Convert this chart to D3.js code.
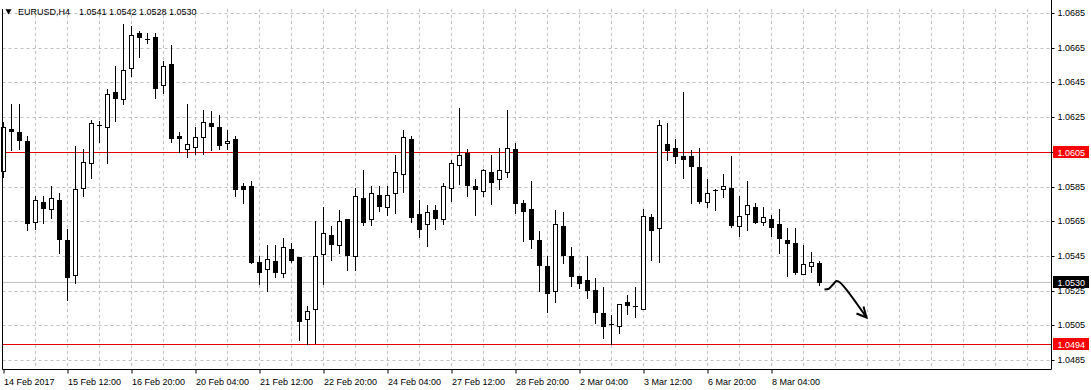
<!DOCTYPE html>
<html>
<head>
<meta charset="utf-8">
<script src="https://cdn.jsdelivr.net/npm/d3@7"></script>
<style>
  html, body { margin: 0; padding: 0; background: #fff; }
  svg { display: block; font-family: "Liberation Sans", Arial, sans-serif; font-size: 9px; }
</style>
</head>
<body>
<svg id="chart" width="1091" height="390"></svg>
<script>
// EURUSD H4 candles, 14 Feb 2017 04:00 -> 9 Mar 2017 04:00
const SYMBOL = "EURUSD,H4";

const OPEN = [
  1.05941, 1.06180, 1.06162, 1.06112, 1.05647, 1.05759, 1.05719, 1.05770, 1.05540, 1.05338,
  1.05840, 1.05984, 1.06202, 1.06191, 1.06395, 1.06353, 1.06531, 1.06735, 1.06702, 1.06710,
  1.06433, 1.06554, 1.06141, 1.06068, 1.06079, 1.06137, 1.06216, 1.06193, 1.06099, 1.06124,
  1.05851, 1.05851, 1.05415, 1.05373, 1.05419, 1.05350, 1.05488, 1.05442, 1.05088, 1.05142,
  1.05459, 1.05569, 1.05511, 1.05663, 1.05448, 1.05784, 1.05661, 1.05799, 1.05730, 1.05811,
  1.05920, 1.06122, 1.05690, 1.05632, 1.05713, 1.05661, 1.05840, 1.05972, 1.06041, 1.05851,
  1.05822, 1.05932, 1.05892, 1.05932, 1.06064, 1.05753, 1.05720, 1.05540, 1.05392, 1.05249,
  1.05622, 1.05449, 1.05332, 1.05309, 1.05252, 1.05119, 1.05059, 1.05048, 1.05183, 1.05160,
  1.05146, 1.05673, 1.05609, 1.06095, 1.06070, 1.06024, 1.06024, 1.05961, 1.05759, 1.05828,
  1.05834, 1.05841, 1.05621, 1.05690, 1.05730, 1.05644, 1.05661, 1.05632, 1.05540, 1.05523,
  1.05347, 1.05390, 1.0541
];
const HIGH = [
  1.06224, 1.06326, 1.06326, 1.06141, 1.05795, 1.05795, 1.05851, 1.05813, 1.05603, 1.06083,
  1.06066, 1.06233, 1.06229, 1.06410, 1.06546, 1.06787, 1.06777, 1.06746, 1.06733, 1.06735,
  1.06573, 1.06667, 1.06162, 1.06326, 1.06191, 1.06291, 1.06285, 1.06262, 1.06174, 1.06141,
  1.05870, 1.05882, 1.05448, 1.05513, 1.05513, 1.05553, 1.05524, 1.05442, 1.05161, 1.05651,
  1.05734, 1.05622, 1.05715, 1.05663, 1.05841, 1.05945, 1.05851, 1.05851, 1.05851, 1.06032,
  1.06174, 1.06139, 1.05770, 1.05742, 1.05742, 1.05868, 1.06004, 1.06302, 1.06064, 1.05893,
  1.05949, 1.06032, 1.06070, 1.06289, 1.06102, 1.05772, 1.05882, 1.05594, 1.05451, 1.05713,
  1.05701, 1.05500, 1.05332, 1.05448, 1.05321, 1.05269, 1.05108, 1.05171, 1.05223, 1.05269,
  1.05720, 1.05690, 1.06232, 1.06216, 1.06122, 1.06395, 1.06059, 1.06072, 1.05893, 1.05837,
  1.05922, 1.06026, 1.05795, 1.05882, 1.05755, 1.05732, 1.05687, 1.05720, 1.05609, 1.05609,
  1.05513, 1.05472, 1.0542
];
const LOW = [
  1.05903, 1.06060, 1.06066, 1.05599, 1.05607, 1.05641, 1.05670, 1.05468, 1.05196, 1.05296,
  1.05797, 1.05901, 1.06108, 1.05987, 1.06229, 1.06324, 1.06487, 1.06598, 1.06679, 1.06362,
  1.06389, 1.06106, 1.06051, 1.06022, 1.06039, 1.06039, 1.06060, 1.06066, 1.06066, 1.05797,
  1.05757, 1.05411, 1.05288, 1.05249, 1.05330, 1.05330, 1.05415, 1.04967, 1.04940, 1.04950,
  1.05290, 1.05428, 1.05468, 1.05370, 1.05370, 1.05630, 1.05630, 1.05711, 1.05687, 1.05699,
  1.05820, 1.05647, 1.05561, 1.05509, 1.05607, 1.05632, 1.05768, 1.05866, 1.05795, 1.05687,
  1.05795, 1.05751, 1.05834, 1.05907, 1.05699, 1.05538, 1.05497, 1.05249, 1.05128, 1.05186,
  1.05411, 1.05278, 1.05267, 1.05209, 1.05065, 1.04979, 1.04940, 1.05007, 1.05117, 1.05100,
  1.05146, 1.05428, 1.05417, 1.06001, 1.05987, 1.05901, 1.05757, 1.05757, 1.05732, 1.05716,
  1.05791, 1.05618, 1.05566, 1.05601, 1.05641, 1.05628, 1.05565, 1.05467, 1.05336, 1.05347,
  1.05347, 1.05359, 1.0528
];
const CLOSE = [
  1.06191, 1.06172, 1.06120, 1.05641, 1.05770, 1.05728, 1.05782, 1.05549, 1.05330, 1.05834,
  1.05990, 1.06214, 1.06202, 1.06381, 1.06360, 1.06520, 1.06721, 1.06710, 1.06702, 1.06419,
  1.06543, 1.06131, 1.06131, 1.06093, 1.06134, 1.06220, 1.06200, 1.06089, 1.06112, 1.05837,
  1.05837, 1.05415, 1.05359, 1.05430, 1.05359, 1.05500, 1.05428, 1.05077, 1.05131, 1.05448,
  1.05580, 1.05520, 1.05649, 1.05457, 1.05794, 1.05647, 1.05811, 1.05739, 1.05799, 1.05932,
  1.06134, 1.05676, 1.05607, 1.05701, 1.05670, 1.05851, 1.05984, 1.06030, 1.05860, 1.05834,
  1.05943, 1.05878, 1.05943, 1.06070, 1.05757, 1.05711, 1.05549, 1.05399, 1.05238, 1.05632,
  1.05457, 1.05336, 1.05296, 1.05255, 1.05128, 1.05048, 1.05059, 1.05171, 1.05169, 1.05160,
  1.05678, 1.05601, 1.06203, 1.06062, 1.06028, 1.06010, 1.05970, 1.05768, 1.05811, 1.05828,
  1.05851, 1.05630, 1.05680, 1.05742, 1.05645, 1.05673, 1.05618, 1.05551, 1.05526, 1.05359,
  1.05402, 1.05417, 1.0530
];

// one label every 8 bars
const TIME_LABELS = [
  "14 Feb 2017", "15 Feb 12:00", "16 Feb 20:00", "20 Feb 04:00", "21 Feb 12:00",
  "22 Feb 20:00", "24 Feb 04:00", "27 Feb 12:00", "28 Feb 20:00", "2 Mar 04:00",
  "3 Mar 12:00", "6 Mar 20:00", "8 Mar 04:00"
];
const PRICE_TICKS = [1.0685, 1.0665, 1.0645, 1.0625, 1.0605, 1.0585, 1.0565, 1.0545, 1.0525, 1.0505, 1.0485];
const HLINES = [1.0605, 1.0494];   // drawn horizontal levels
const BID = 1.0530;

// hand drawn arrow: [bar index, price]
const ARROW_PATH = [[102.625, 1.05256], [103.19, 1.05262], [103.69, 1.05285], [104.125, 1.05305], [104.56, 1.05297], [107.875, 1.05095]];
const ARROW_HEAD = [[106.625, 1.05118], [107.875, 1.05095], [107.5, 1.05158]];

const W = 1091, H = 390;
const frame = { left: 2.5, right: 1051.5, top: 9, bottom: 369.5 };

const svg = d3.select("#chart");

const x = d3.scaleLinear().domain([0, 1]).range([3.5, 11.5]);
const y = d3.scaleLinear().domain([1.0485, 1.0685]).range([360, 13]);
const ry = v => Math.round(y(v)) + 0.5;

const GRID = "#c0c0c0";

// --- grid
const gGrid = svg.append("g");
gGrid.selectAll("line.h").data(PRICE_TICKS).join("line")
  .attr("x1", frame.left).attr("x2", frame.right)
  .attr("y1", ry).attr("y2", ry)
  .attr("stroke", GRID).attr("stroke-dasharray", "3,3");

const nBarsView = Math.floor((frame.right - 3.5) / 8);
const vgrid = d3.range(4, nBarsView + 1, 4);
gGrid.selectAll("line.v").data(vgrid).join("line")
  .attr("x1", d => x(d)).attr("x2", d => x(d))
  .attr("y1", frame.top).attr("y2", frame.bottom)
  .attr("stroke", GRID).attr("stroke-dasharray", "3,3");

// --- level lines
svg.append("line")
  .attr("x1", frame.left).attr("x2", frame.right)
  .attr("y1", ry(BID)).attr("y2", ry(BID))
  .attr("stroke", "#c0c0c0");
svg.selectAll("line.lvl").data(HLINES).join("line")
  .attr("x1", frame.left).attr("x2", frame.right)
  .attr("y1", ry).attr("y2", ry)
  .attr("stroke", "#e00000");

// --- candles
const bars = OPEN.map((o, i) => ({ i, o, h: HIGH[i], l: LOW[i], c: CLOSE[i] }));
const gC = svg.append("g");

gC.selectAll("line.wick").data(bars).join("line")
  .attr("x1", d => x(d.i)).attr("x2", d => x(d.i))
  .attr("y1", d => Math.round(y(d.h))).attr("y2", d => Math.round(y(d.l)) + 1)
  .attr("stroke", "#000");

bars.forEach(d => {
  const top = Math.round(y(Math.max(d.o, d.c)));
  const bot = Math.round(y(Math.min(d.o, d.c)));
  const cx = x(d.i);
  if (bot - top < 1) {
    gC.append("line")
      .attr("x1", cx - 2.5).attr("x2", cx + 2.5)
      .attr("y1", top + 0.5).attr("y2", top + 0.5)
      .attr("stroke", "#000");
  } else if (d.c > d.o) {
    gC.append("rect")
      .attr("x", cx - 2).attr("width", 4)
      .attr("y", top + 0.5).attr("height", bot - top)
      .attr("fill", "#fff").attr("stroke", "#000");
  } else {
    gC.append("rect")
      .attr("x", cx - 2.5).attr("width", 5)
      .attr("y", top).attr("height", bot - top + 1)
      .attr("fill", "#000");
  }
});

// --- arrow
const arrowLine = d3.line().x(d => x(d[0])).y(d => y(d[1])).curve(d3.curveCatmullRom.alpha(0.5));
svg.append("path").datum(ARROW_PATH)
  .attr("d", arrowLine).attr("fill", "none")
  .attr("stroke", "#000").attr("stroke-width", 2);
svg.append("path").datum(ARROW_HEAD)
  .attr("d", d3.line().x(d => x(d[0])).y(d => y(d[1])))
  .attr("fill", "none").attr("stroke", "#000").attr("stroke-width", 2);

// --- frame
svg.append("path")
  .attr("d", `M${frame.left},${frame.top}V${frame.bottom}H${frame.right}V0`)
  .attr("fill", "none").attr("stroke", "#000");

// --- price axis
const yAxis = svg.append("g")
  .attr("transform", `translate(${frame.right},0)`)
  .call(d3.axisRight(y).tickValues(PRICE_TICKS).tickSize(3).tickPadding(3)
          .tickFormat(d3.format(".4f")));
yAxis.select(".domain").remove();
yAxis.selectAll(".tick").attr("transform", d => `translate(0,${ry(d)})`);
yAxis.selectAll("text").attr("fill", "#000").style("font-size", "9px")
  .style("font-family", '"Liberation Sans", Arial, sans-serif');

// --- time axis
const xAxis = svg.append("g")
  .attr("transform", `translate(0,${frame.bottom})`)
  .call(d3.axisBottom(x).tickValues(d3.range(0, TIME_LABELS.length * 8, 8))
          .tickSize(4).tickFormat((d, i) => TIME_LABELS[i]));
xAxis.select(".domain").remove();
xAxis.selectAll("text")
  .attr("text-anchor", "start").attr("x", 0).attr("y", 15).attr("dy", 0)
  .attr("fill", "#000").style("font-size", "9px")
  .style("font-family", '"Liberation Sans", Arial, sans-serif');

// --- price tags on the axis
function tag(price, bg) {
  const yy = ry(price);
  svg.append("rect")
    .attr("x", frame.right + 1.5).attr("y", yy - 6.5)
    .attr("width", 36).attr("height", 12)
    .attr("fill", bg);
  svg.append("text")
    .attr("x", frame.right + 6).attr("y", yy + 3)
    .attr("fill", "#fff")
    .text(d3.format(".4f")(price));
}
HLINES.forEach(p => tag(p, "#ff0000"));
tag(BID, "#000");

// --- title
const last = bars[bars.length - 1];
svg.append("path")
  .attr("d", d3.symbol(d3.symbolTriangle, 16))
  .attr("transform", "translate(8.5,11) rotate(180)")
  .attr("fill", "#000");
svg.append("text").attr("x", 18).attr("y", 14.5).attr("fill", "#000").text(SYMBOL);
svg.append("text").attr("x", 79).attr("y", 14.5).attr("fill", "#000")
  .text([last.o, last.h, last.l, last.c].map(d3.format(".4f")).join(" "));
</script>
</body>
</html>
